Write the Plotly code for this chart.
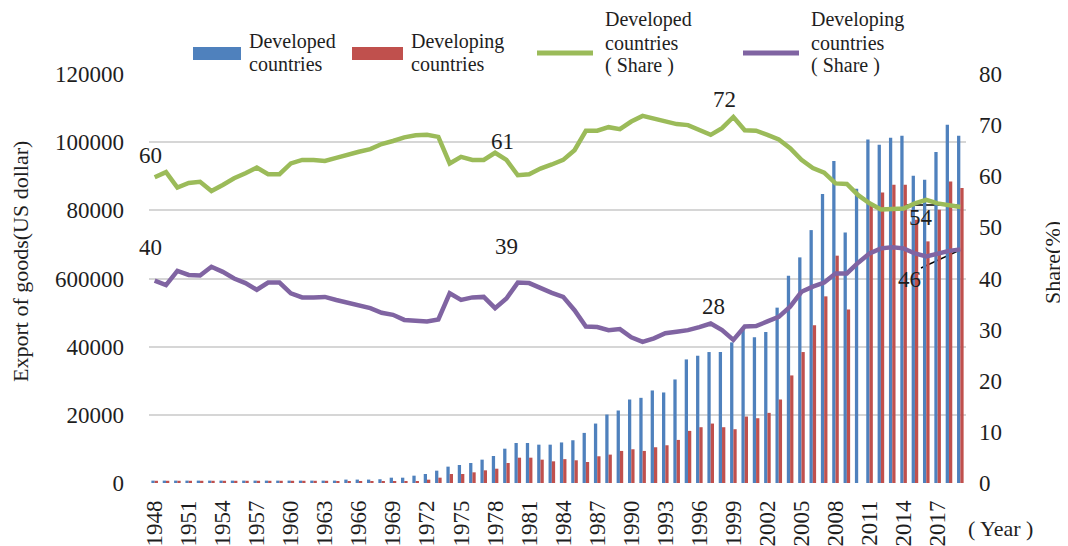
import plotly.graph_objects as go

years = list(range(1948, 2020))

developed_exports = [
    700, 700, 700, 700, 700, 700, 700, 700, 700, 700, 700, 700, 700, 700, 700, 700,
    700, 1000, 1000, 1000, 1100, 1560, 1560, 2150, 2640, 3620, 4800, 5280, 5870, 6850,
    7920, 10070, 11740, 11740, 11250, 11250, 11900, 12540, 14700, 17440, 20090, 21270,
    24500, 24990, 27150, 26560, 30380, 36260, 37340, 38420, 38420, 41260, 44880, 42730,
    44300, 51450, 60800, 66200, 74200, 84800, 94500, 73500, 86300, 100800, 99260, 101300,
    101900, 90160, 88990, 97100, 105120, 101900,
]

developing_exports = [
    650, 650, 650, 650, 650, 650, 650, 650, 650, 650, 650, 650, 650, 650, 650, 650,
    300, 300, 500, 400, 500, 450, 500, 550, 980, 1560, 2640, 2640, 3130, 3720,
    4200, 5870, 7430, 7430, 6850, 6360, 7000, 6660, 6170, 7840, 8330, 9410,
    9900, 9410, 10490, 11070, 12640, 15290, 16370, 17440, 16370, 15780, 19500, 19010,
    20580, 24500, 31560, 38420, 46300, 54760, 66700, 50900, None, 81660, 85260, 87520,
    87520, 77250, 70890, 80190, 88490, 86550,
]

developed_share = [
    59.8, 60.8, 57.8, 58.7, 58.9, 57.1, 58.3, 59.6, 60.6, 61.7, 60.4, 60.4, 62.5, 63.2,
    63.2, 63.0, 63.6, 64.3, 64.8, 65.3, 66.3, 66.9, 67.6, 68.0, 68.1, 67.7, 62.5, 63.8,
    63.2, 63.2, 64.6, 63.2, 60.2, 60.4, 61.5, 62.3, 63.2, 65.1, 68.9, 68.9, 69.6, 69.2,
    70.7, 71.8, 71.3, 70.7, 70.2, 70.0, 69.0, 68.1, 69.4, 71.6, 69.0, 68.9, 68.1, 67.2,
    65.5, 63.2, 61.6, 60.7, 58.6, 58.5, 56.3, 54.7, 53.5, 53.5, 53.7, 54.7, 55.4, 54.7,
    54.4, 54.0,
]

developing_share = [
    39.6, 38.7, 41.5, 40.7, 40.6, 42.3, 41.3, 40.0, 39.1, 37.8, 39.2, 39.2, 37.1, 36.3,
    36.3, 36.4, 35.8, 35.3, 34.6, 34.2, 33.3, 32.9, 31.9, 31.8, 31.6, 32.0, 37.1, 35.8,
    36.3, 36.4, 34.2, 36.1, 39.2, 39.1, 38.1, 37.2, 36.4, 33.8, 30.6, 30.5, 29.9, 30.1,
    28.5, 27.6, 28.3, 29.3, 29.6, 29.9, 30.5, 31.2, 29.9, 28.0, 30.6, 30.7, 31.6, 32.5,
    34.5, 37.4, 38.4, 39.2, 41.0, 41.0, 43.1, 44.9, 45.9, 46.1, 45.9, 44.9, 44.3, 44.9,
    45.4, 45.7,
]

left_tickvals = [0, 20000, 40000, 60000, 80000, 100000, 120000]
left_ticktext = ["0", "20000", "40000", "600000", "80000", "100000", "120000"]
right_tickvals = [0, 10, 20, 30, 40, 50, 60, 70, 80]
year_ticks = years[::3]

point_labels = ["60", "40", "61", "39", "72", "28", "54", "46"]

BLUE = "#4F81BD"
RED = "#C0504D"
GREEN = "#9BBB59"
PURPLE = "#8064A2"
TXT = "#1e1e1e"
FONT = '"Liberation Serif", "Times New Roman", serif'
FS = 23

# page is shown with an 8px body offset, so the figure is 8px smaller
OFF = 8
W, H = 1068 - OFF, 546 - OFF
# plot area in reference pixel coordinates
X0, X1, Y0, Y1 = 149, 966, 74, 483


def px(x):
    return (x - X0) / (X1 - X0)


def py(y):
    return (Y1 - y) / (Y1 - Y0)


fig = go.Figure()
fig.add_trace(go.Bar(x=years, y=developed_exports, name="Developed countries",
                     marker=dict(color=BLUE, line=dict(width=0)), yaxis="y"))
fig.add_trace(go.Bar(x=years, y=developing_exports, name="Developing countries",
                     marker=dict(color=RED, line=dict(width=0)), yaxis="y"))
fig.add_trace(go.Scatter(x=years, y=developed_share, name="Developed countries (Share)",
                         mode="lines", line=dict(color=GREEN, width=4.5), yaxis="y2"))
fig.add_trace(go.Scatter(x=years, y=developing_share, name="Developing countries (Share)",
                         mode="lines", line=dict(color=PURPLE, width=4.5), yaxis="y2"))

ann = []


def text(x, y, t, size=FS, xanchor="center", angle=0):
    ann.append(dict(x=px(x), y=py(y), xref="paper", yref="paper", text=t, showarrow=False,
                    xanchor=xanchor, yanchor="middle", textangle=angle, borderpad=0,
                    font=dict(family=FONT, size=size, color=TXT)))


# point labels
label_pos = [(150, 155), (150, 247), (502, 141), (506, 246), (724, 99), (713, 306),
             (921, 218), (909, 279)]
for (lx, ly), t in zip(label_pos, point_labels):
    text(lx, ly, t)

# axis titles
text(20, 262, "Export of goods(US dollar)", size=22, angle=-90)
text(1053, 263, "Share(%)", size=22, angle=-90)
text(1001, 528, "( Year )", size=22)

# custom legend
LF = 20
shapes = []
shapes.append(dict(type="rect", xref="paper", yref="paper", x0=px(193), x1=px(241),
                   y0=py(60), y1=py(47), fillcolor=BLUE, line=dict(width=0)))
shapes.append(dict(type="rect", xref="paper", yref="paper", x0=px(352), x1=px(403),
                   y0=py(60), y1=py(47), fillcolor=RED, line=dict(width=0)))
shapes.append(dict(type="line", xref="paper", yref="paper", x0=px(537), x1=px(593),
                   y0=py(53), y1=py(53), line=dict(color=GREEN, width=5)))
shapes.append(dict(type="line", xref="paper", yref="paper", x0=px(743), x1=px(799),
                   y0=py(53), y1=py(53), line=dict(color=PURPLE, width=5)))

text(248, 41, "Developed", size=LF, xanchor="left")
text(248, 64, "countries", size=LF, xanchor="left")
text(410, 41, "Developing", size=LF, xanchor="left")
text(410, 64, "countries", size=LF, xanchor="left")
text(604, 20, "Developed", size=LF, xanchor="left")
text(604, 43, "countries", size=LF, xanchor="left")
text(604, 66, "( Share )", size=LF, xanchor="left")
text(810, 20, "Developing", size=LF, xanchor="left")
text(810, 43, "countries", size=LF, xanchor="left")
text(810, 66, "( Share )", size=LF, xanchor="left")

# white box behind the "61" label interrupting the gridline
shapes.append(dict(type="rect", xref="paper", yref="paper", x0=px(470), x1=px(545),
                   y0=py(148), y1=py(139), fillcolor="white", line=dict(width=0),
                   layer="between"))
# leader lines
shapes.append(dict(type="line", xref="paper", yref="paper", x0=px(905), x1=px(958),
                   y0=py(205), y1=py(205), line=dict(color="black", width=1.5),
                   layer="between"))
shapes.append(dict(type="line", xref="paper", yref="paper", x0=px(921), x1=px(960),
                   y0=py(268), y1=py(250), line=dict(color="black", width=1.5),
                   layer="between"))

fig.update_layout(
    width=W, height=H, autosize=False,
    margin=dict(l=X0 - OFF, r=W - (X1 - OFF), t=Y0 - OFF, b=H - (Y1 - OFF), pad=0),
    paper_bgcolor="white", plot_bgcolor="white",
    barmode="group", bargap=0.42, bargroupgap=0,
    showlegend=False,
    font=dict(family=FONT, size=FS, color=TXT),
    xaxis=dict(range=[1947.5, 2019.5], tickmode="array", tickvals=year_ticks,
               ticktext=[str(y) for y in year_ticks], tickangle=-90, showgrid=False,
               zeroline=False, showline=False, ticks="", ticklabelstandoff=12,
               automargin=False, tickfont=dict(family=FONT, size=FS, color=TXT)),
    yaxis=dict(range=[0, 120000], tickmode="array", tickvals=left_tickvals,
               ticktext=left_ticktext, showgrid=True, gridcolor="#D6D6D6", gridwidth=1.6,
               zeroline=False, showline=False, ticks="", ticklabelstandoff=24,
               automargin=False, tickfont=dict(family=FONT, size=FS, color=TXT)),
    yaxis2=dict(range=[0, 80], tickmode="array", tickvals=right_tickvals,
                overlaying="y", side="right", showgrid=False, zeroline=False,
                showline=False, ticks="", ticklabelstandoff=12, automargin=False,
                tickfont=dict(family=FONT, size=FS, color=TXT)),
    annotations=ann,
    shapes=shapes,
)

fig.write_html("out.html")
